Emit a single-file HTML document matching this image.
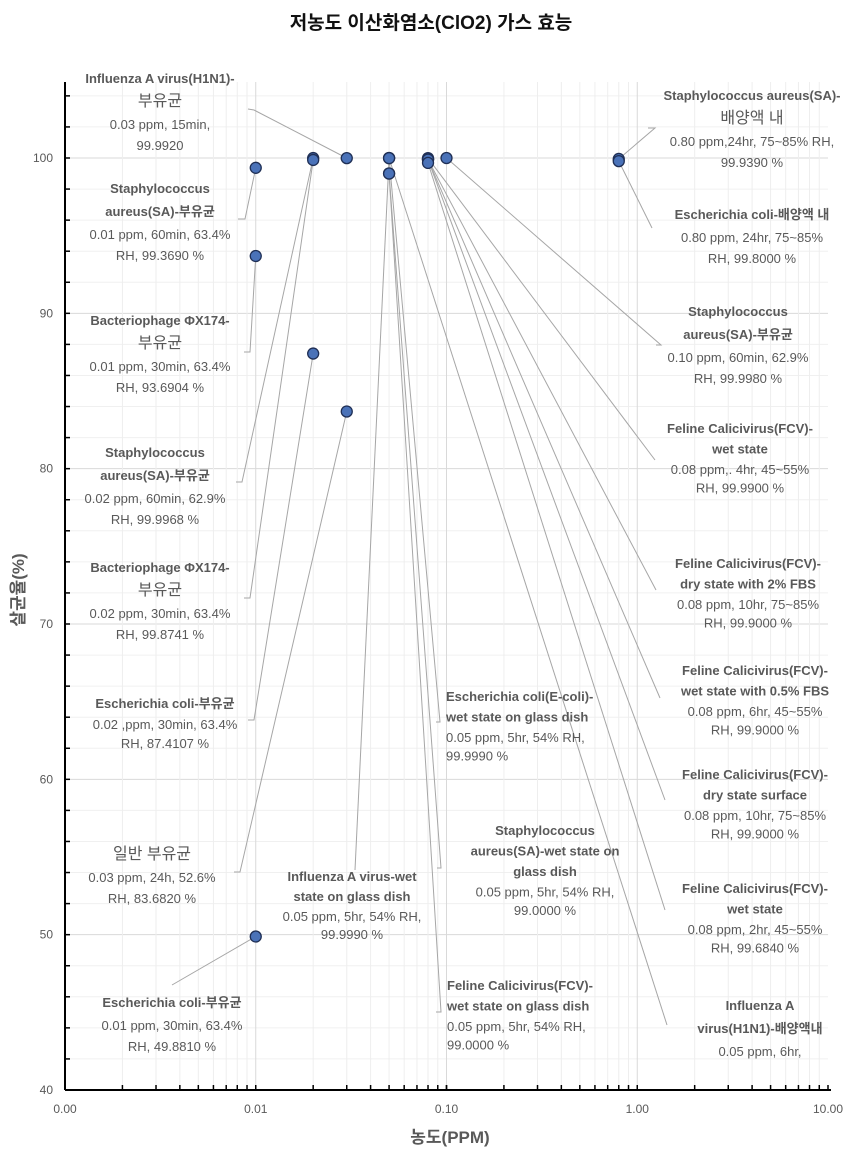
<!DOCTYPE html>
<html><head><meta charset="utf-8">
<style>
html,body{margin:0;padding:0;background:#fff;}
svg{display:block;font-family:"Liberation Sans","Noto Sans CJK KR",sans-serif;}
.nm{font-weight:bold;font-size:13px;fill:#595959;}
.dt{font-size:13px;fill:#595959;}
.kr{font-size:16px;fill:#595959;}
</style></head>
<body>
<svg id="chart" width="863" height="1159" viewBox="0 0 863 1159" xmlns="http://www.w3.org/2000/svg">
<text x="431" y="29" text-anchor="middle" font-size="19" font-weight="bold" fill="#111">저농도 이산화염소(ClO2) 가스 효능</text>
<text transform="translate(24,590) rotate(-90)" text-anchor="middle" font-size="17" font-weight="bold" fill="#595959">살균율(%)</text>
<text x="450" y="1143" text-anchor="middle" font-size="17" font-weight="bold" fill="#595959">농도(PPM)</text>
<g id="grid"></g><g id="axes"></g><g id="leaders"></g><g id="points"></g><g id="labels"></g>
</svg>
<script>
// ---- data ----
const ppm   = [0.03, 0.01, 0.01, 0.02, 0.02, 0.02, 0.03, 0.01, 0.05, 0.05, 0.05, 0.05, 0.05, 0.8, 0.8, 0.1, 0.08, 0.08, 0.08, 0.08, 0.08];
const kill  = [99.992, 99.369, 93.6904, 99.9968, 99.8741, 87.4107, 83.682, 49.881, 99.999, 99.999, 99.0, 99.0, 99.99, 99.939, 99.8, 99.998, 99.99, 99.9, 99.9, 99.9, 99.684];
const names = [
 ["Influenza A virus(H1N1)-","부유균"],
 ["Staphylococcus","aureus(SA)-부유균"],
 ["Bacteriophage ΦX174-","부유균"],
 ["Staphylococcus","aureus(SA)-부유균"],
 ["Bacteriophage ΦX174-","부유균"],
 ["Escherichia coli-부유균"],
 ["일반 부유균"],
 ["Escherichia coli-부유균"],
 ["Influenza A virus-wet","state on glass dish"],
 ["Escherichia coli(E-coli)-","wet state on glass dish"],
 ["Staphylococcus","aureus(SA)-wet state on","glass dish"],
 ["Feline Calicivirus(FCV)-","wet state on glass dish"],
 ["Influenza A","virus(H1N1)-배양액내"],
 ["Staphylococcus aureus(SA)-","배양액 내"],
 ["Escherichia coli-배양액 내"],
 ["Staphylococcus","aureus(SA)-부유균"],
 ["Feline Calicivirus(FCV)-","wet state"],
 ["Feline Calicivirus(FCV)-","dry state with 2% FBS"],
 ["Feline Calicivirus(FCV)-","wet state with 0.5% FBS"],
 ["Feline Calicivirus(FCV)-","dry state surface"],
 ["Feline Calicivirus(FCV)-","wet state"]
];
const details = [
 ["0.03 ppm, 15min,","99.9920"],
 ["0.01 ppm, 60min, 63.4%","RH, 99.3690 %"],
 ["0.01 ppm, 30min, 63.4%","RH, 93.6904 %"],
 ["0.02 ppm, 60min, 62.9%","RH, 99.9968 %"],
 ["0.02 ppm, 30min, 63.4%","RH, 99.8741 %"],
 ["0.02 ,ppm, 30min, 63.4%","RH, 87.4107 %"],
 ["0.03 ppm, 24h, 52.6%","RH, 83.6820 %"],
 ["0.01 ppm, 30min, 63.4%","RH, 49.8810 %"],
 ["0.05 ppm, 5hr, 54% RH,","99.9990 %"],
 ["0.05 ppm, 5hr, 54% RH,","99.9990 %"],
 ["0.05 ppm, 5hr, 54% RH,","99.0000 %"],
 ["0.05 ppm, 5hr, 54% RH,","99.0000 %"],
 ["0.05 ppm, 6hr,"],
 ["0.80 ppm,24hr, 75~85% RH,","99.9390 %"],
 ["0.80 ppm, 24hr, 75~85%","RH, 99.8000 %"],
 ["0.10 ppm, 60min, 62.9%","RH, 99.9980 %"],
 ["0.08 ppm,. 4hr, 45~55%","RH, 99.9900 %"],
 ["0.08 ppm, 10hr, 75~85%","RH, 99.9000 %"],
 ["0.08 ppm, 6hr, 45~55%","RH, 99.9000 %"],
 ["0.08 ppm, 10hr, 75~85%","RH, 99.9000 %"],
 ["0.08 ppm, 2hr, 45~55%","RH, 99.6840 %"]
];
const yTicks = [40,50,60,70,80,90,100];
const xTicks = [0.001,0.01,0.1,1,10];
const xTickLabels = ["0.00","0.01","0.10","1.00","10.00"];

// ---- layout (label boxes: center x, first line y, line gap, leader start, align) ----
const layout = [
 [160,83,22,[248,109,254,110]],
 [160,193,22,[238,219,245,219]],
 [160,325,22,[244,352,250,352]],
 [155,457,22,[236,482,242,482]],
 [160,572,22,[244,598,250,598]],
 [165,708,20,[248,720,254,720]],
 [152,859,22,[234,872,240,872]],
 [172,1007,22,[172,985,172,985]],
 [352,881,19,[355,870,355,870]],
 [446,701,19.5,[436,722,440,722],'start'],
 [545,835,19.5,[437,868,441,868]],
 [447,990,19.5,[436,1012,441,1012],'start'],
 [760,1010,22,[667,1025,667,1025]],
 [752,100,22,[648,128,655,128]],
 [752,219,22,[652,228,652,228]],
 [738,316,22,[656,345,661,345]],
 [740,433,19.5,[655,460,655,460]],
 [748,568,19.5,[656,590,656,590]],
 [755,675,19.5,[660,698,660,698]],
 [755,779,19.5,[665,800,665,800]],
 [755,893,19.5,[665,910,665,910]]
];

const NS="http://www.w3.org/2000/svg";
const L=65,R=828,T=82,B=1090;
const X0=Math.log10(0.001),X1=Math.log10(10);
const xs=v=>L+(Math.log10(v)-X0)/(X1-X0)*(R-L);
const ymin=40,ymax=100;
const ys=v=>B-(v-ymin)/(ymax-ymin)*(B-158);
function mk(tag,attrs,parent){const e=document.createElementNS(NS,tag);for(const k in attrs)e.setAttribute(k,attrs[k]);parent.appendChild(e);return e;}
const grid=document.getElementById('grid'),axes=document.getElementById('axes'),leaders=document.getElementById('leaders'),pts=document.getElementById('points'),labs=document.getElementById('labels');

for(let v=40;v<=106;v+=2){const y=ys(v);if(y<T)break;
 const g=mk('line',{x1:L,x2:R,y1:y,y2:y,stroke:v%10===0?'#d9d9d9':'#f0f0f0','stroke-width':1},grid);
 }
for(let d=-3;d<1;d++)for(let m=1;m<=9;m++){const x=xs(m*Math.pow(10,d));
 const g=mk('line',{x1:x,x2:x,y1:T,y2:B,stroke:m===1?'#d9d9d9':'#eeeeee','stroke-width':1},grid);
 }
let a=mk('line',{x1:L,x2:L,y1:T,y2:B,stroke:'#000','stroke-width':2},axes);

a=mk('line',{x1:L,x2:R+3,y1:B,y2:B,stroke:'#000','stroke-width':2},axes);

for(let v=40;v<=106;v+=2){const y=ys(v);if(y<T)break;mk('line',{x1:L,x2:L+5,y1:y,y2:y,stroke:'#000','stroke-width':1.5},axes);}
for(let d=-3;d<1;d++)for(let m=1;m<=10;m++){const x=xs(m*Math.pow(10,d));mk('line',{x1:x,x2:x,y1:B,y2:B-5,stroke:'#000','stroke-width':1.5},axes);}
yTicks.forEach(v=>{const t=mk('text',{x:L-12,y:ys(v)+4,'text-anchor':'end','font-size':12,fill:'#595959'},axes);t.textContent=v;
 });
xTicks.forEach((v,i)=>{const t=mk('text',{x:xs(v),y:B+23,'text-anchor':'middle','font-size':12,fill:'#595959'},axes);t.textContent=xTickLabels[i];
 });

ppm.forEach((p,i)=>{
 const px=xs(p),py=ys(kill[i]);const lo=layout[i];const ld=lo[3];
 const pl=mk('polyline',{points:`${ld[0]},${ld[1]} ${ld[2]},${ld[3]} ${px},${py}`,fill:'none',stroke:'#a6a6a6','stroke-width':1},leaders);
 
 const c=mk('circle',{cx:px,cy:py,r:5.5,fill:'#4a72b8',stroke:'#1f2f55','stroke-width':1.3},pts);
 
 const anchor=lo[4]||'middle';
 const t=mk('text',{'text-anchor':anchor},labs);
 
 let y=lo[1];
 names[i].forEach(s=>{const ts=mk('tspan',{x:lo[0],y:y,class:/[가-힣]/.test(s)&&!/[A-Za-z]/.test(s)?'kr':'nm'},t);ts.textContent=s;y+=lo[2]+1;});
 details[i].forEach(s=>{const ts=mk('tspan',{x:lo[0],y:y,class:'dt'},t);ts.textContent=s;y+=lo[2]-1;});
});
</script>
</body></html>
